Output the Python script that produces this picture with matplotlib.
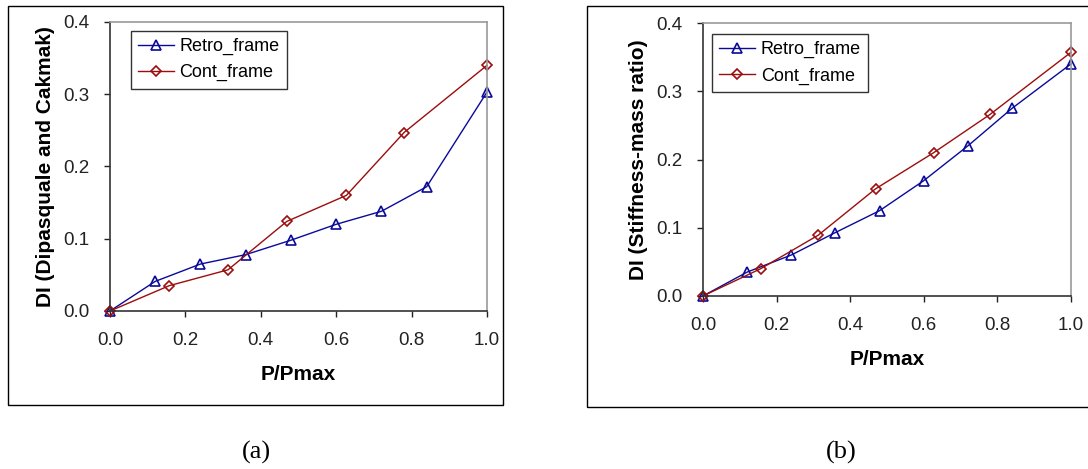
import matplotlib.pyplot as plt
from matplotlib.patches import Rectangle

# load ratios and damage indices for both frames
retro_x = [0.0, 0.12, 0.24, 0.36, 0.48, 0.60, 0.72, 0.84, 1.0]
cont_x = [0.0, 0.157, 0.313, 0.469, 0.627, 0.780, 1.0]

# (a) Dipasquale and Cakmak index
retro_dc = [0.0, 0.041, 0.065, 0.078, 0.098, 0.120, 0.138, 0.172, 0.303]
cont_dc = [0.0, 0.035, 0.057, 0.124, 0.160, 0.247, 0.340]

# (b) stiffness-mass ratio index
retro_sm = [0.0, 0.035, 0.060, 0.093, 0.125, 0.169, 0.220, 0.275, 0.340]
cont_sm = [0.0, 0.040, 0.089, 0.157, 0.210, 0.266, 0.357]

xticks = [0.0, 0.2, 0.4, 0.6, 0.8, 1.0]
yticks = [0.0, 0.1, 0.2, 0.3, 0.4]

plt.rcParams['font.family'] = ['Liberation Sans', 'DejaVu Sans']

BLUE = '#0a0a9a'
RED = '#9c0d0d'

fig = plt.figure(figsize=(10.88, 4.69), dpi=100)

# frames round each panel
fig.patches.append(Rectangle((0.0074, 0.1365), 0.455, 0.8507, transform=fig.transFigure,
                             fill=False, edgecolor='black', linewidth=1.0))
fig.patches.append(Rectangle((0.5395, 0.1322), 0.47, 0.855, transform=fig.transFigure,
                             fill=False, edgecolor='black', linewidth=1.0))


def panel(rect, retro_y, cont_y, ylabel, legend_anchor):
    ax = fig.add_axes(rect)
    ax.plot(retro_x, retro_y, color=BLUE, lw=1.0, marker='^', ms=7,
            mfc='none', mec=BLUE, mew=1.2, label='Retro_frame', clip_on=False)
    ax.plot(cont_x, cont_y, color=RED, lw=1.0, marker='D', ms=5.5,
            mfc='none', mec=RED, mew=1.2, label='Cont_frame', clip_on=False)
    ax.set_xlim(0, 1.0)
    ax.set_ylim(0, 0.4)
    ax.set_xticks(xticks)
    ax.set_yticks(yticks)
    ax.set_xticklabels(['%.1f' % v for v in xticks])
    ax.set_yticklabels(['%.1f' % v for v in yticks])
    ax.tick_params(direction='out', length=4, width=1, labelsize=13.5, colors='#222222')
    ax.tick_params(axis='x', pad=11)
    ax.tick_params(axis='y', pad=11)
    for s in ('left', 'bottom'):
        ax.spines[s].set_color('#333333')
        ax.spines[s].set_linewidth(1.2)
    for s in ('top', 'right'):
        ax.spines[s].set_color('#999999')
        ax.spines[s].set_linewidth(1.2)
    ax.set_xlabel('P/Pmax', fontsize=15, fontweight='bold', labelpad=12)
    ax.set_ylabel(ylabel, fontsize=15, fontweight='bold', labelpad=6)
    leg = ax.legend(loc='upper left', bbox_to_anchor=legend_anchor, fontsize=13,
                    frameon=True, fancybox=False, edgecolor='black',
                    handlelength=2.0, handletextpad=0.3, borderpad=0.4,
                    labelspacing=0.5, borderaxespad=0)
    leg.get_frame().set_linewidth(1.0)
    return ax


panel([0.1011, 0.3369, 0.3465, 0.6162], retro_dc, cont_dc,
      'DI (Dipasquale and Cakmak)', (0.055, 0.97))
panel([0.6461, 0.3689, 0.3382, 0.582], retro_sm, cont_sm,
      'DI (Stiffness-mass ratio)', (0.025, 0.96))

fig.text(0.2353, 0.036, '(a)', ha='center', va='center', fontsize=19,
         family='Liberation Serif')
fig.text(0.773, 0.036, '(b)', ha='center', va='center', fontsize=19,
         family='Liberation Serif')

fig.savefig('out.png', dpi=100)
